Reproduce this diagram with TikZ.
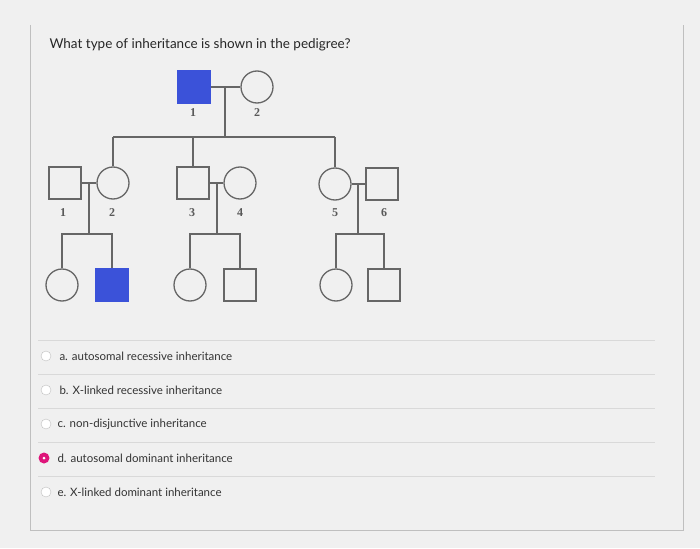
\documentclass[tikz,border=0pt]{standalone}
\usepackage{fontspec}
\setmainfont{Lato}
\newfontfamily\labfont{Liberation Serif}
\definecolor{affblue}{HTML}{3B52D9}
\begin{document}
\begin{tikzpicture}[x=1pt,y=-1pt,
 ln/.style={draw=black!60,line width=1.3pt},
 male/.style={ln,rectangle,minimum size=32pt,inner sep=0pt},
 female/.style={ln,circle,minimum size=32pt,inner sep=0pt},
 aff/.style={fill=affblue,draw=affblue},
 lab/.style={font=\labfont\bfseries\fontsize{12}{14}\selectfont,text=black!65},
 opt/.style={anchor=west,font=\fontsize{11.5}{13}\selectfont,text=black!80},
 radio/.style={circle,draw=black!25,fill=white,minimum size=10pt,inner sep=0pt},
 sep/.style={draw=black!15,line width=0.6pt}]
\fill[gray!12] (0,0) rectangle (700,548);
\useasboundingbox (0,0) rectangle (700,548);
\draw[black!25,line width=0.8pt] (30,25) -- (30,530) -- (683,530) -- (683,25);
\node[anchor=west,font=\fontsize{13.5}{15}\selectfont,text=black!85] (q) at (46,45) {What type of inheritance is shown in the pedigree?};
% generation I
\node[male,aff] (a1) at (194,87) {};
\node[female] (a2) at (257,87) {};
\node[lab] (la1) at (193,113) {1};
\node[lab] (la2) at (257,113) {2};
\draw[ln] (a1) -- (a2);
\coordinate (m1) at (225,87);
\coordinate (s1) at (225,137);
\draw[ln] (m1) -- (s1);
% generation II
\node[male] (b1) at (65,183) {};
\node[female] (b2) at (113,183) {};
\node[male] (b3) at (193,183) {};
\node[female] (b4) at (240,183) {};
\node[female] (b5) at (335,184) {};
\node[male] (b6) at (382,184) {};
\foreach \n/\x in {1/63,2/112,3/192,4/240,5/335,6/384}{\node[lab] (lb\n) at (\x,213) {\n};}
\draw[ln] (113,137) -- (335,137);
\draw[ln] (113,137) -- (b2.north);
\draw[ln] (193,137) -- (b3.north);
\draw[ln] (335,137) -- (b5.north);
\draw[ln] (b1) -- (b2);
\draw[ln] (b3) -- (b4);
\draw[ln] (b5) -- (b6);
\draw[ln] (89,183) -- (89,234);
\draw[ln] (217,183) -- (217,234);
\draw[ln] (358,184) -- (358,234);
% generation III
\node[female] (c1) at (62,285) {};
\node[male,aff] (c2) at (112,285) {};
\node[female] (c3) at (190,285) {};
\node[male] (c4) at (240,285) {};
\node[female] (c5) at (336,285) {};
\node[male] (c6) at (384,285) {};
\draw[ln] (c1.north) |- (89,234) -| (c2.north);
\draw[ln] (c3.north) |- (217,234) -| (c4.north);
\draw[ln] (c5.north) |- (358,234) -| (c6.north);
% options
\foreach \y in {340,374,408,442,476}{\draw[sep] (38,\y) -- (655,\y);}
\node[radio] (r1) at (46,356) {};
\node[radio] (r2) at (46,390) {};
\node[radio] (r3) at (46,424) {};
\node[circle,fill=magenta!70!purple,minimum size=11pt,inner sep=0pt] (r4) at (44,458) {};
\node[circle,fill=white,minimum size=3pt,inner sep=0pt] at (r4) {};
\node[radio] (r5) at (46,492) {};
\node[opt] (o1) at (56,356) {a. autosomal recessive inheritance};
\node[opt] (o2) at (56,390) {b. X-linked recessive inheritance};
\node[opt] (o3) at (54,424) {c. non-disjunctive inheritance};
\node[opt] (o4) at (54,458) {d. autosomal dominant inheritance};
\node[opt] (o5) at (54,492) {e. X-linked dominant inheritance};
\end{tikzpicture}
\end{document}
